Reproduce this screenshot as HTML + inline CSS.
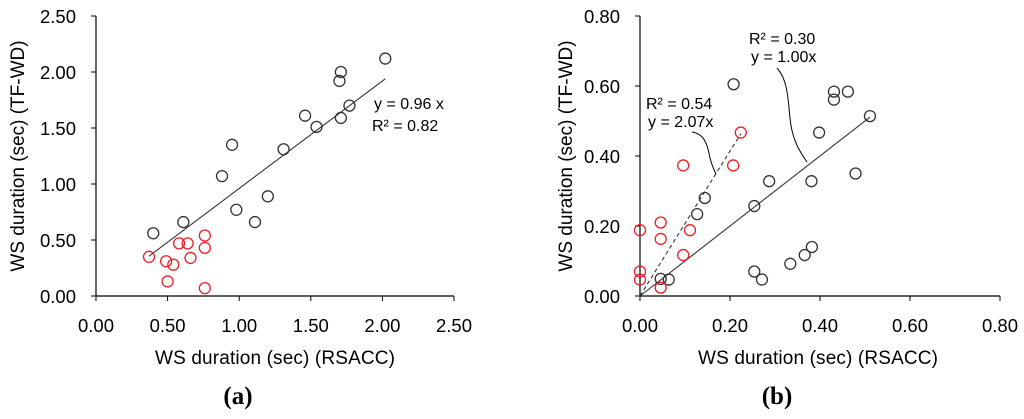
<!DOCTYPE html>
<html><head><meta charset="utf-8"><style>
body{margin:0;background:#fff;}
svg{display:block;font-family:"Liberation Sans",Arial,sans-serif;}
</style></head><body>
<svg id="chart" width="1024" height="419" viewBox="0 0 1024 419"></svg>
<script>
// Panel (a) data
const aBlackX=[0.40,0.61,0.88,0.95,0.98,1.11,1.20,1.31,1.46,1.54,1.70,1.71,1.71,1.77,2.02];
const aBlackY=[0.56,0.66,1.07,1.35,0.77,0.66,0.89,1.31,1.61,1.51,1.92,2.00,1.59,1.70,2.12];
const aRedX=[0.37,0.49,0.54,0.50,0.58,0.64,0.66,0.76,0.76,0.76];
const aRedY=[0.35,0.31,0.28,0.13,0.47,0.47,0.34,0.54,0.43,0.07];
const aTicksX=["0.00","0.50","1.00","1.50","2.00","2.50"];
const aTicksY=["0.00","0.50","1.00","1.50","2.00","2.50"];
const aSlope=0.96, aFitRange=[0.37,2.02];
// Panel (b) data
const bBlackX=[0.046,0.064,0.127,0.144,0.208,0.254,0.254,0.271,0.287,0.334,0.366,0.381,0.382,0.398,0.431,0.431,0.462,0.479,0.511];
const bBlackY=[0.049,0.047,0.234,0.280,0.605,0.257,0.070,0.047,0.328,0.092,0.117,0.328,0.140,0.467,0.584,0.561,0.584,0.350,0.514];
const bRedX=[0,0,0,0.046,0.046,0.046,0.096,0.096,0.111,0.207,0.224];
const bRedY=[0.188,0.070,0.047,0.210,0.163,0.024,0.373,0.117,0.188,0.373,0.467];
const bTicksX=["0.00","0.20","0.40","0.60","0.80"];
const bTicksY=["0.00","0.20","0.40","0.60","0.80"];
const bSlopeBlack=1.00, bSlopeRed=2.07, bBlackRange=[0,0.511], bRedRange=[0,0.224];

const svg=document.getElementById('chart');
const NS='http://www.w3.org/2000/svg';
function mk(tag,attrs,parent){const e=document.createElementNS(NS,tag);for(const k in attrs)e.setAttribute(k,attrs[k]);(parent||svg).appendChild(e);return e;}
function txt(s,attrs,parent){const e=mk('text',attrs,parent);e.textContent=s;return e;}

function panel(id,x0,x1,y0,y1,xmax,ymax,ticksX,ticksY){
  const g=mk('g',{});
  
  
  const sx=v=>x0+(x1-x0)*v/xmax, sy=v=>y0-(y0-y1)*v/ymax;
  const ax=mk('line',{x1:x0,y1:y0,x2:x1,y2:y0,stroke:'#000','stroke-width':1.2},g);
  
  const ay=mk('line',{x1:x0,y1:y0,x2:x0,y2:y1,stroke:'#000','stroke-width':1.2},g);
  
  ticksX.forEach((t,i)=>{const v=parseFloat(t),px=sx(v);
    mk('line',{x1:px,y1:y0,x2:px,y2:y0+5,stroke:'#000'},g);
    const l=txt(t,{x:px,y:y0+36,'text-anchor':'middle','font-size':18.5,fill:'#000'},g);
    });
  ticksY.forEach((t,i)=>{const v=parseFloat(t),py=sy(v);
    mk('line',{x1:x0-5,y1:py,x2:x0,y2:py,stroke:'#000'},g);
    const l=txt(t,{x:x0-20,y:py+7,'text-anchor':'end','font-size':18.5,fill:'#000'},g);
    });
  return {g,sx,sy};
}
function pts(p,xs,ys,color,name){
  xs.forEach((x,i)=>{const c=mk('circle',{cx:p.sx(x),cy:p.sy(ys[i]),r:5.5,fill:'none',stroke:color,'stroke-width':1.3},p.g);
    
    });
}
function fit(p,r,slope,dash,name){
  const l=mk('line',{x1:p.sx(r[0]),y1:p.sy(r[0]*slope),x2:p.sx(r[1]),y2:p.sy(r[1]*slope),stroke:'#333','stroke-width':1.1},p.g);
  if(dash)l.setAttribute('stroke-dasharray','4,3');
  
  
}

// Panel a
const pa=panel('panel-a',96,454,296,16,2.5,2.5,aTicksX,aTicksY);
fit(pa,aFitRange,aSlope,false,'trend-line');
pts(pa,aBlackX,aBlackY,'#333','point-black');
pts(pa,aRedX,aRedY,'#e8202a','point-red');
let t=txt('y = 0.96 x',{x:374,y:109,'font-size':16},pa.g);
t=txt('R² = 0.82',{x:372,y:131,'font-size':16},pa.g);
t=txt('WS duration (sec) (RSACC)',{x:275,y:364,'text-anchor':'middle','font-size':19,textLength:240},pa.g);
t=txt('WS duration (sec) (TF-WD)',{x:0,y:0,'text-anchor':'middle','font-size':19,transform:'translate(24,156) rotate(-90)'},pa.g);
t=txt('(a)',{x:238,y:404,'text-anchor':'middle','font-size':25,'font-weight':'bold','font-family':'Liberation Serif,serif'},pa.g);

// Panel b
const pb=panel('panel-b',640,1000,296,16,0.8,0.8,bTicksX,bTicksY);
fit(pb,bBlackRange,bSlopeBlack,false,'trend-line-black');
fit(pb,bRedRange,bSlopeRed,true,'trend-line-red');
pts(pb,bBlackX,bBlackY,'#333','point-black');
pts(pb,bRedX,bRedY,'#e8202a','point-red');
t=txt('R² = 0.30',{x:749,y:44,'font-size':16},pb.g);
t=txt('y = 1.00x',{x:751,y:62,'font-size':16},pb.g);
t=txt('R² = 0.54',{x:646,y:109,'font-size':16},pb.g);
t=txt('y = 2.07x',{x:648,y:127,'font-size':16},pb.g);
let c=mk('path',{d:'M777,68 C788,80 788,100 790,118 C792,140 800,152 807,162',fill:'none',stroke:'#000','stroke-width':1},pb.g);
c=mk('path',{d:'M692,132 C706,134 708,148 710,158 C712,166 714,170 716,174',fill:'none',stroke:'#000','stroke-width':1},pb.g);
t=txt('WS duration (sec) (RSACC)',{x:818,y:364,'text-anchor':'middle','font-size':19,textLength:240},pb.g);
t=txt('WS duration (sec) (TF-WD)',{x:0,y:0,'text-anchor':'middle','font-size':19,transform:'translate(572,156) rotate(-90)'},pb.g);
t=txt('(b)',{x:777,y:404,'text-anchor':'middle','font-size':25,'font-weight':'bold','font-family':'Liberation Serif,serif'},pb.g);
</script>
</body></html>
